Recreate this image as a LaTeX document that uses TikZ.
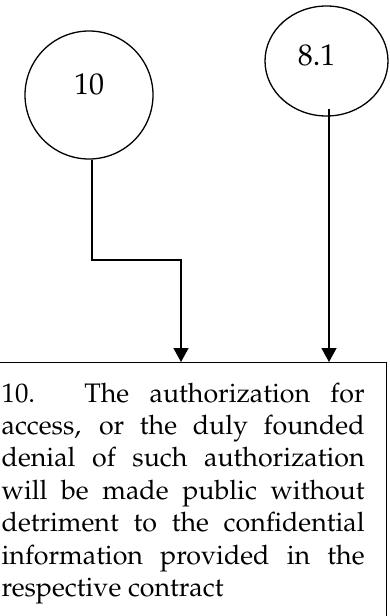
\documentclass[tikz,border=0pt]{standalone}
\usepackage[T1]{fontenc}
\usepackage{mathpazo}
\usepackage{tikz}
\usetikzlibrary{arrows.meta,shapes,positioning}

\tikzset{
	bubble/.style={draw,circle,line width=0.65pt,inner sep=0pt},
	oval/.style={draw,ellipse,line width=0.65pt,inner sep=0pt},
	tag/.style={font=\fontsize{15}{18}\selectfont},
	textbox/.style={draw,rectangle,line width=0.65pt,inner xsep=11pt,inner ysep=10pt,anchor=north west},
	link/.style={line width=0.65pt,-{Triangle[length=7pt,width=7.5pt]}}
}

\begin{document}
\begin{tikzpicture}[x=0.5pt,y=-0.5pt,every node/.style={font=\fontsize{13.4}{16.2}\selectfont}]
			\useasboundingbox (0,0) rectangle (390,616);
			\clip (0,0) rectangle (390,616);

			\node[bubble,minimum size=64pt,label={[tag,yshift=5.5pt]center:10}] (c10) at (89,95) {};
			\node[oval,minimum width=61.5pt,minimum height=55pt,label={[tag,xshift=-5pt,yshift=3pt]center:8.1}] (c81) at (326.5,61) {};

			\node[textbox] (box) at (-21,362) {\parbox[t][150pt][t]{181.5pt}{\tolerance=10000\hyphenpenalty=10000
				10. The authorization for\linebreak
				access, or the duly founded\linebreak
				denial of such authorization\linebreak
				will be made public without\linebreak
				detriment to the confidential\linebreak
				information provided in the\linebreak
				respective contract}};

			\coordinate (k1) at (92,260);
			\coordinate (k2) at (181,260);
			\draw[link] ([xshift=1.5pt]c10.south) -- (k1) -- (k2) -- (k2 |- box.north);
			\draw[link] ([xshift=1.25pt,yshift=4pt]c81.south) -- ([xshift=1.25pt]c81.south |- box.north);

			\end{tikzpicture}
\end{document}
